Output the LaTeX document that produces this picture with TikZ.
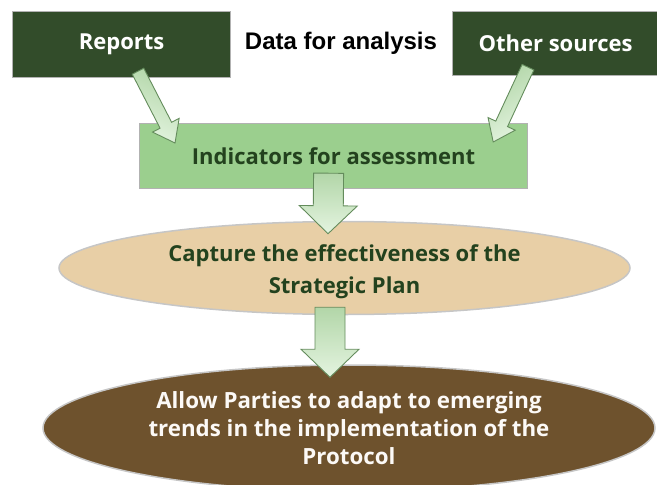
\documentclass[tikz,border=0pt]{standalone}
\usepackage{fontspec}
\setmainfont{Open Sans}
\newfontfamily\arialfont{Liberation Sans}
\usetikzlibrary{shapes.geometric,calc,shadows}
\definecolor{darkbox}{RGB}{50,76,42}
\definecolor{lightbox}{RGB}{155,207,142}
\definecolor{tanfill}{RGB}{232,207,166}
\definecolor{brownfill}{RGB}{110,82,45}
\definecolor{darktext}{RGB}{35,66,30}
\definecolor{arrowedge}{RGB}{100,140,92}
\definecolor{arrowA}{RGB}{178,214,168}
\definecolor{arrowB}{RGB}{228,244,224}
\tikzset{
  srcbox/.style={draw=gray!60, line width=1.2pt, fill=darkbox, text=white,
    font=\fontsize{22}{24}\selectfont\bfseries, inner sep=0pt, anchor=north west},
  indbox/.style={draw=gray!60, line width=1.2pt, fill=lightbox, text=darktext,
    font=\fontsize{22}{24}\selectfont\bfseries, inner sep=0pt, anchor=north west},
  ovalA/.style={ellipse, draw=gray!45, line width=1.5pt, fill=tanfill, text=darktext,
    font=\fontsize{22}{32}\selectfont\bfseries, align=center, inner sep=0pt},
  ovalB/.style={ellipse, draw=gray!45, line width=1.5pt, fill=brownfill, text=white!95!brown,
    font=\fontsize{22.3}{28}\selectfont\bfseries, align=center, inner sep=0pt},
  fatarr/.style={draw=arrowedge, line width=0.9pt, line join=miter,
    left color=arrowA, right color=arrowB},
}
% #1 tail, #2 tip, #3 half shaft width, #4 half head width, #5 head length, #6 shading angle
\newcommand\fatarrow[6]{%
  \coordinate (fa@h) at ($(#2)!#5pt!(#1)$);
  \path[fatarr, shading angle=#6]
    ($(#1)!#3pt!90:(#2)$) -- ($(fa@h)!#3pt!-90:(#1)$) -- ($(fa@h)!#4pt!-90:(#1)$) -- (#2)
    -- ($(fa@h)!#4pt!90:(#1)$) -- ($(fa@h)!#3pt!90:(#1)$) -- ($(#1)!#3pt!-90:(#2)$) -- cycle;
}
\begin{document}
\begin{tikzpicture}[x=1pt, y=-1pt]
\useasboundingbox (0,0) rectangle (657,485);
\clip (0,0) rectangle (657,485);

% source boxes
\node[srcbox, minimum width=218pt, minimum height=66pt] (rep) at (12,11) {Reports};
\node[srcbox, minimum width=206pt, minimum height=64pt] (oth) at (452,11) {Other sources};
\node[font=\arialfont\fontsize{24}{28}\selectfont\bfseries] (data) at (341,43) {Data for analysis};

% indicators box
\node[indbox, minimum width=388pt, minimum height=65pt] (ind) at (139,123) {Indicators for assessment};

% ellipses
\node[ovalA, minimum width=571pt, minimum height=93pt] (cap) at (344.5,268)
  {\rule{0pt}{24pt}Capture the effectiveness of the\\Strategic Plan};
\node[ovalB, minimum width=612pt, minimum height=126pt] (allow) at (349,428)
  {Allow Parties to adapt to emerging\\trends in the implementation of the\\Protocol};

% arrow end points
\coordinate (t1) at ($(rep.south west)+(126,-7)$);
\coordinate (h1) at ($(ind.north west)+(36,20)$);
\coordinate (t2) at ($(oth.south west)+(76,-9)$);
\coordinate (h2) at ($(ind.north east)+(-35,19)$);
\coordinate (t3) at ($(ind.south)+(-5,-16)$);
\coordinate (h3) at ($(cap.north)+(-16.5,13)$);
\coordinate (t4) at ($(cap.south)+(-14.5,-8)$);
\coordinate (h4) at ($(allow.north)+(-19,13)$);

\fatarrow{t1}{h1}{6.5}{15}{20}{-25}
\fatarrow{t2}{h2}{6.5}{15}{20}{30}
\fatarrow{t3}{h3}{15}{29}{28}{0}
\fatarrow{t4}{h4}{15}{29}{28}{0}
\end{tikzpicture}
\end{document}
